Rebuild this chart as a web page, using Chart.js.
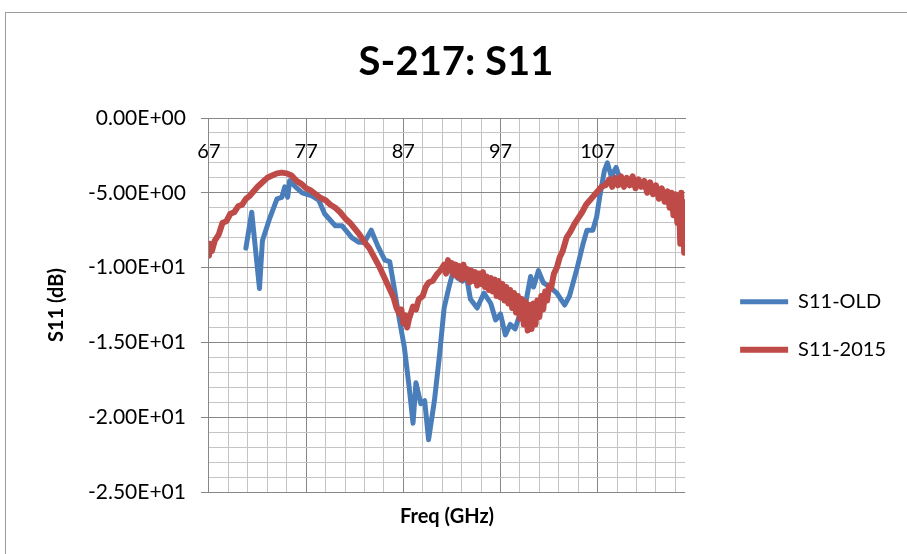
<!DOCTYPE html>
<html>
<head>
<meta charset="utf-8">
<script src="https://cdn.jsdelivr.net/npm/chart.js@4.4.1/dist/chart.umd.min.js"></script>
<style>
  body { margin: 0; overflow: hidden; background: #fff; }
  #frame { position: absolute; left: 5px; top: 12px; width: 914px; height: 560px; border: 1px solid #9c9c9c; }
</style>
</head>
<body>
<div id="frame"><canvas id="s11Chart"></canvas></div>
<script>
// S-217 return loss (GHz, dB)
const oldFreq = [
  70.8, 71.4, 72.2, 72.5, 73.2, 74.0, 74.5, 74.8, 75.1, 75.3,
  75.9, 76.6, 77.6, 78.3, 78.9, 80.0, 80.7, 81.7, 82.4, 83.0,
  83.7, 84.4, 85.1, 85.6, 86.1, 86.6, 87.1, 87.6, 88.0, 88.3,
  88.8, 89.2, 89.6, 90.2, 90.7, 91.2, 91.7, 92.1, 92.6, 93.1,
  93.4, 93.9, 94.6, 95.3, 96.0, 96.5, 97.0, 97.5, 98.0, 98.5,
  99.0, 99.5, 100.1, 100.4, 100.9, 101.4, 102.1, 102.8, 103.6, 104.1,
  104.9, 105.5, 105.9, 106.5, 106.9, 107.2, 107.7, 108.0, 108.4, 108.9,
  109.2, 110.0, 111.0
];
const oldS11 = [
  -8.7, -6.3, -11.4, -8.2, -6.8, -5.4, -5.3, -4.6, -5.3, -4.2,
  -4.6, -5.0, -5.2, -5.5, -6.4, -7.2, -7.2, -8.0, -8.3, -8.3,
  -7.5, -8.6, -9.5, -9.6, -11.5, -13.5, -15.3, -18.0, -20.4, -17.7,
  -19.1, -18.9, -21.5, -18.9, -16.0, -12.7, -11.3, -10.3, -10.7, -10.9,
  -10.2, -12.1, -12.7, -11.7, -12.4, -13.5, -13.1, -14.5, -13.8, -14.1,
  -13.1, -12.7, -10.6, -11.3, -10.2, -11.0, -11.3, -11.7, -12.5, -11.9,
  -10.0, -8.4, -7.5, -7.5, -6.6, -5.3, -3.5, -3.0, -3.9, -3.3,
  -3.9, -4.2, -4.3
];
const newFreq = [
  67.0, 67.1, 67.3, 67.6, 68.0, 68.4, 68.8, 69.2, 69.6, 70.0,
  70.4, 70.8, 71.2, 71.6, 72.0, 72.5, 73.0, 73.5, 74.0, 74.5,
  75.0, 75.5, 76.0, 76.5, 77.0, 77.5, 78.0, 78.5, 79.0, 79.5,
  80.0, 80.5, 81.0, 81.5, 82.0, 82.5, 83.0, 83.5, 84.0, 84.5,
  85.0, 85.5, 86.0, 86.3, 86.6, 86.8, 87.0, 87.2, 87.4, 87.6,
  87.8, 88.0, 88.3, 88.6, 89.0, 89.3, 89.6, 90.0, 90.4, 90.8,
  91.2, 91.4, 91.6, 91.8, 92.0, 92.2, 92.4, 92.6, 92.8, 93.0,
  93.2, 93.4, 93.6, 93.8, 94.0, 94.2, 94.4, 94.6, 94.8, 95.0,
  95.2, 95.4, 95.6, 95.8, 96.0, 96.2, 96.4, 96.6, 96.8, 97.0,
  97.2, 97.4, 97.6, 97.8, 98.0, 98.2, 98.4, 98.6, 98.8, 99.0,
  99.2, 99.4, 99.6, 99.8, 100.0, 100.2, 100.4, 100.6, 100.8, 101.0,
  101.2, 101.4, 101.6, 101.8, 102.0, 102.2, 102.5, 102.8, 103.1, 103.4,
  103.8, 104.2, 104.6, 105.0, 105.4, 105.8, 106.2, 106.6, 107.0, 107.4,
  107.8, 108.2, 108.5, 108.8, 109.1, 109.4, 109.7, 110.0, 110.3, 110.6,
  110.9, 111.2, 111.5, 111.8, 112.1, 112.4, 112.7, 113.0, 113.3, 113.6,
  113.9, 114.2, 114.4, 114.6, 114.8, 115.0, 115.2, 115.35, 115.5, 115.6,
  115.7, 115.8, 115.9, 116.0
];
const newS11 = [
  -9.2, -8.4, -8.9, -8.2, -7.8, -7.0, -6.9, -6.4, -6.3, -5.9,
  -5.8, -5.4, -5.2, -4.9, -4.6, -4.3, -4.0, -3.85, -3.7, -3.65,
  -3.7, -3.85, -4.2, -4.4, -4.7, -4.85, -5.1, -5.35, -5.5, -5.8,
  -6.0, -6.3, -6.7, -7.0, -7.4, -7.8, -8.3, -8.7, -9.3, -9.9,
  -10.6, -11.3, -12.0, -12.7, -13.1, -12.8, -13.7, -13.2, -14.0, -13.4,
  -13.0, -12.6, -12.8, -12.1, -11.9, -11.3, -11.0, -10.9, -10.5, -10.2,
  -9.8, -10.4, -9.5, -10.2, -9.7, -10.5, -9.8, -10.6, -9.9, -10.8,
  -9.8, -10.7, -10.1, -11.0, -10.2, -10.9, -10.3, -11.2, -10.4, -11.1,
  -10.3, -11.3, -10.6, -11.5, -10.7, -11.6, -10.8, -11.9, -10.9, -12.0,
  -11.1, -12.2, -11.3, -12.4, -11.5, -12.7, -11.7, -13.0, -11.9, -13.4,
  -12.1, -13.8, -12.3, -14.2, -12.5, -14.1, -12.4, -13.8, -12.2, -13.3,
  -11.9, -12.8, -11.6, -12.2, -11.2, -11.4, -10.4, -10.0, -9.3, -8.9,
  -8.0, -7.6, -7.1, -6.7, -6.3, -5.8, -5.5, -5.2, -4.9, -4.6,
  -4.5, -4.1, -4.6, -4.0, -4.5, -3.9, -4.6, -4.0, -4.5, -3.9,
  -4.7, -4.1, -4.6, -4.2, -5.0, -4.3, -5.1, -4.5, -5.4, -4.7,
  -5.6, -4.9, -6.0, -5.0, -6.5, -5.1, -7.0, -5.3, -8.4, -5.0,
  -7.4, -5.6, -9.0, -6.2
];

// axis ranges and labelled ticks
const freqMin = 67, freqMax = 116;
const freqLabels = [67, 77, 87, 97, 107];
const freqGrid = [];
for (let f = 67; f <= 115; f += 2) freqGrid.push(f);
const s11Min = -25, s11Max = 0;

const majorGrid = '#878787';
const minorGrid = '#c4c4c4';
const fontFamily = 'Lato, "Open Sans", sans-serif';

Chart.defaults.color = '#000';
Chart.defaults.font.family = fontFamily;

// Excel style scientific label, e.g. -1.50E+01
function sciLabel(v) {
  if (v === 0) return '0.00E+00';
  const exp = Math.floor(Math.log10(Math.abs(v)));
  const mant = v / Math.pow(10, exp);
  return mant.toFixed(2) + 'E' + (exp < 0 ? '-' : '+') + String(Math.abs(exp)).padStart(2, '0');
}

const ctx = document.getElementById('s11Chart').getContext('2d');
const s11Chart = new Chart(ctx, {
  type: 'line',
  data: {
    datasets: [
      {
        label: 'S11-OLD',
        data: oldFreq.map((f, i) => ({ x: f, y: oldS11[i] })),
        borderColor: '#4a7ebb',
        backgroundColor: '#4a7ebb',
        borderWidth: 5,
        order: 1
      },
      {
        label: 'S11-2015',
        data: newFreq.map((f, i) => ({ x: f, y: newS11[i] })),
        borderColor: '#be4b48',
        backgroundColor: '#be4b48',
        borderWidth: 6,
        order: 0
      }
    ]
  },
  options: {
    responsive: true,
    maintainAspectRatio: false,
    animation: false,
    elements: {
      point: { radius: 0 },
      line: { tension: 0, borderCapStyle: 'round', borderJoinStyle: 'round', fill: false }
    },
    layout: { padding: { left: 10, right: 24, top: 0, bottom: 37 } },
    plugins: {
      title: {
        display: true,
        text: 'S-217: S11',
        font: { size: 40, weight: 'bold' },
        padding: { top: 25, bottom: 32 }
      },
      legend: {
        position: 'right',
        // empty title only pushes the two entries down to mid plot
        title: { display: true, text: '', padding: 44, font: { size: 12 } },
        labels: {
          usePointStyle: true,
          pointStyle: 'line',
          pointStyleWidth: 48,
          padding: 28,
          font: { size: 20 },
          sort: (a, b) => a.datasetIndex - b.datasetIndex
        }
      },
      tooltip: { enabled: false }
    },
    scales: {
      x: {
        type: 'linear',
        position: { y: 0 },
        min: freqMin,
        max: freqMax,
        afterBuildTicks: scale => { scale.ticks = freqGrid.map(v => ({ value: v })); },
        ticks: {
          autoSkip: false,
          maxRotation: 0,
          padding: 22,
          font: { size: 20 },
          callback: v => freqLabels.includes(v) ? String(v) : ''
        },
        grid: {
          drawTicks: false,
          color: c => freqLabels.includes(c.tick.value) ? majorGrid : minorGrid
        },
        border: { color: majorGrid }
      },
      x2: {
        type: 'linear',
        position: 'bottom',
        min: freqMin,
        max: freqMax,
        ticks: { display: false },
        grid: { display: false },
        border: { display: false },
        title: {
          display: true,
          text: 'Freq (GHz)',
          font: { size: 20, weight: 'bold' },
          padding: { top: 5, bottom: 7 }
        }
      },
      y: {
        type: 'linear',
        min: s11Min,
        max: s11Max,
        ticks: {
          stepSize: 1,
          autoSkip: false,
          padding: 15,
          font: { size: 21 },
          callback: v => v % 5 === 0 ? sciLabel(v) : ''
        },
        grid: {
          tickLength: 8,
          color: c => c.tick.value % 5 === 0 ? majorGrid : minorGrid,
          tickColor: c => c.tick.value % 5 === 0 ? majorGrid : 'rgba(0,0,0,0)'
        },
        border: { color: majorGrid },
        title: {
          display: true,
          text: 'S11 (dB)',
          font: { size: 20, weight: 'bold' },
          padding: { top: 29, bottom: 4 }
        }
      },
      // hidden spacer between plot and legend
      y2: {
        type: 'linear',
        position: 'right',
        display: false,
        min: s11Min,
        max: s11Max,
        afterFit: scale => { scale.width = 27; }
      }
    }
  }
});
</script>
</body>
</html>
